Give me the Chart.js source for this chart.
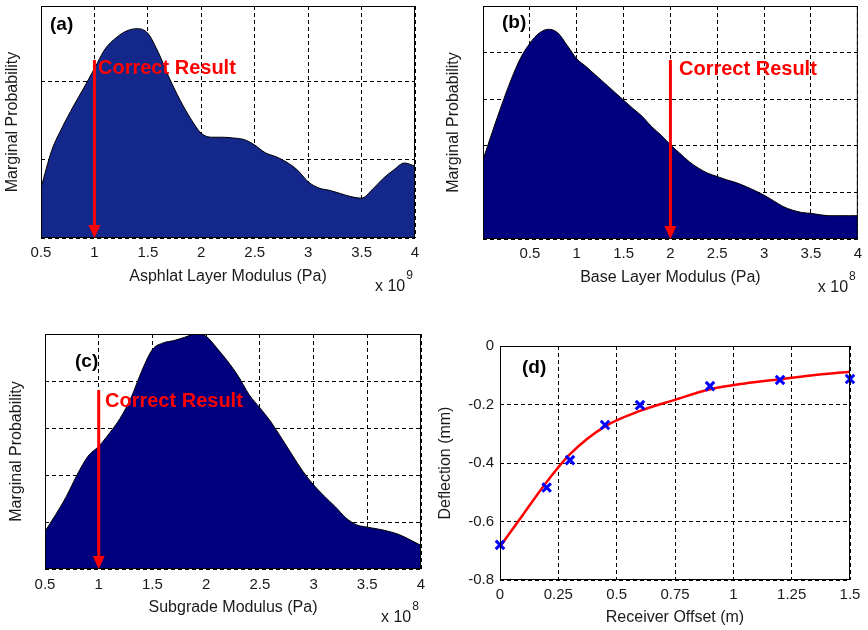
<!DOCTYPE html>
<html>
<head>
<meta charset="utf-8">
<script src="https://cdn.jsdelivr.net/npm/chart.js@4.4.0/dist/chart.umd.min.js"></script>
<style>
  body { margin: 0; background: #fff; width: 868px; height: 630px; position: relative; overflow: hidden; }
  .panel { position: absolute; width: 434px; height: 315px; }
</style>
</head>
<body>
<div class="panel" style="left:0;top:0"><canvas id="chartA" width="434" height="315"></canvas></div>
<div class="panel" style="left:434px;top:0"><canvas id="chartB" width="434" height="315"></canvas></div>
<div class="panel" style="left:0;top:315px"><canvas id="chartC" width="434" height="315"></canvas></div>
<div class="panel" style="left:434px;top:315px"><canvas id="chartD" width="434" height="315"></canvas></div>
<script>
// (a) asphalt layer modulus, x in 1e9 Pa
const aX = [0.5,0.6,0.7,0.8,0.9,1.0,1.1,1.2,1.3,1.4,1.5,1.6,1.7,1.8,1.9,2.0,2.1,2.2,2.3,2.4,2.5,2.6,2.7,2.8,2.9,3.0,3.1,3.2,3.3,3.4,3.5,3.6,3.7,3.8,3.9,4.0];
const aY = [0.64,1.12,1.42,1.68,1.92,2.17,2.42,2.56,2.65,2.68,2.62,2.37,2.05,1.77,1.53,1.34,1.29,1.29,1.28,1.26,1.19,1.09,1.04,0.97,0.87,0.72,0.64,0.61,0.57,0.53,0.51,0.62,0.76,0.87,0.96,0.92];
const aTicks = [0.5,1,1.5,2,2.5,3,3.5,4];
const aGrid = [0,1,2];

// (b) base layer modulus, x in 1e8 Pa
const bX = [0,0.1,0.2,0.3,0.4,0.5,0.6,0.7,0.8,0.9,1.0,1.1,1.2,1.3,1.4,1.5,1.6,1.7,1.8,1.9,2.0,2.1,2.2,2.3,2.4,2.5,2.6,2.7,2.8,2.9,3.0,3.1,3.2,3.3,3.4,3.5,3.6,3.7,3.8,3.9,4.0];
const bY = [1.70,2.30,2.88,3.42,3.88,4.20,4.42,4.50,4.42,4.15,3.87,3.70,3.52,3.34,3.16,2.98,2.80,2.63,2.41,2.23,2.02,1.84,1.66,1.52,1.41,1.34,1.27,1.21,1.13,1.04,0.94,0.82,0.70,0.62,0.57,0.55,0.52,0.50,0.50,0.50,0.50];
const bTicks = [0.5,1,1.5,2,2.5,3,3.5,4];
const bGrid = [0,1,2,3,4];

// (c) subgrade modulus, x in 1e8 Pa
const cX = [0.5,0.6,0.7,0.8,0.9,1.0,1.1,1.2,1.3,1.4,1.5,1.6,1.7,1.8,1.9,2.0,2.1,2.2,2.3,2.4,2.5,2.6,2.7,2.8,2.9,3.0,3.1,3.2,3.3,3.4,3.5,3.6,3.7,3.8,3.9,4.0];
const cY = [0.80,1.16,1.55,2.01,2.40,2.61,2.89,3.21,3.64,4.21,4.67,4.81,4.86,4.93,5.00,4.95,4.70,4.42,4.10,3.71,3.43,3.14,2.79,2.43,2.08,1.79,1.55,1.33,1.09,0.94,0.89,0.85,0.80,0.73,0.62,0.50];
const cTicks = [0.5,1,1.5,2,2.5,3,3.5,4];
const cGrid = [0,1,2,3,4];

// (d) deflection vs receiver offset
const dMeasX = [0,0.2,0.3,0.45,0.6,0.9,1.2,1.5];
const dMeasY = [-0.68,-0.484,-0.39,-0.27,-0.202,-0.137,-0.116,-0.113];
const dFitX = [0,0.1,0.2,0.3,0.45,0.6,0.75,0.9,1.05,1.2,1.35,1.5];
const dFitY = [-0.686,-0.575,-0.465,-0.37,-0.275,-0.222,-0.184,-0.148,-0.128,-0.114,-0.099,-0.088];
const dXTicks = [0,0.25,0.5,0.75,1,1.25,1.5];
const dYTicks = [-0.8,-0.6,-0.4,-0.2,0];

const FONT = "'Liberation Sans', Arial, sans-serif";
const INK = '#1a1a1a';

function pts(xs, ys) {
    return xs.map((x, i) => ({x: x, y: ys[i]}));
}

// plot box, panel letter, "Correct Result" arrow and the x 10^n label
const decor = {
    id: 'decor',
    afterDatasetsDraw(chart, args, opts) {
        const ctx = chart.ctx;
        const a = chart.chartArea;
        ctx.save();
        ctx.strokeStyle = '#000';
        ctx.lineWidth = 1;
        ctx.setLineDash([]);
        ctx.strokeRect(a.left + 0.5, a.top + 0.5, a.right - a.left - 1, a.bottom - a.top - 1);

        if (opts.arrowX !== undefined) {
            const x = chart.scales.x.getPixelForValue(opts.arrowX);
            ctx.strokeStyle = '#ff0000';
            ctx.fillStyle = '#ff0000';
            ctx.lineWidth = 3;
            ctx.beginPath();
            ctx.moveTo(x, opts.arrowTop);
            ctx.lineTo(x, a.bottom - 10);
            ctx.stroke();
            ctx.beginPath();
            ctx.moveTo(x - 6, a.bottom - 13);
            ctx.lineTo(x + 6, a.bottom - 13);
            ctx.lineTo(x, a.bottom);
            ctx.closePath();
            ctx.fill();
            ctx.font = 'bold 20px ' + FONT;
            ctx.textBaseline = 'middle';
            ctx.textAlign = 'left';
            ctx.fillText('Correct Result', opts.textX, opts.textY);
        }

        ctx.fillStyle = '#000';
        ctx.font = 'bold 19px ' + FONT;
        ctx.textBaseline = 'middle';
        ctx.textAlign = 'left';
        ctx.fillText(opts.label, opts.labelX, opts.labelY);

        if (opts.exp) {
            ctx.fillStyle = INK;
            ctx.font = '16px ' + FONT;
            const x0 = a.right - 40;
            ctx.fillText('x 10', x0, a.bottom + 49);
            const w = ctx.measureText('x 10').width;
            ctx.font = '12px ' + FONT;
            ctx.fillText(opts.exp, x0 + w + 1, a.bottom + 38);
        }
        ctx.restore();
    }
};

function gridOpts() {
    return { color: '#000', lineWidth: 1, drawTicks: false };
}

function makeDensity(id, xs, ys, c) {
    new Chart(document.getElementById(id), {
        type: 'line',
        data: {
            datasets: [{
                data: pts(xs, ys),
                borderColor: '#000',
                borderWidth: 1,
                backgroundColor: c.fill,
                fill: 'origin',
                pointRadius: 0,
                cubicInterpolationMode: 'monotone'
            }]
        },
        options: {
            responsive: false,
            animation: false,
            layout: { padding: c.pad },
            plugins: {
                legend: { display: false },
                tooltip: { enabled: false },
                decor: c.decor
            },
            scales: {
                x: {
                    type: 'linear',
                    min: c.xMin,
                    max: 4,
                    afterBuildTicks: s => { s.ticks = c.xTicks.map(v => ({value: v})); },
                    afterFit: s => { s.height = c.xAxisH; },
                    grid: gridOpts(),
                    border: { display: false, dash: [4, 3] },
                    ticks: { color: INK, font: { family: FONT, size: 15 }, padding: c.tickPad, maxRotation: 0, autoSkip: false, callback: v => String(v) },
                    title: { display: true, text: c.xTitle, color: INK, font: { family: FONT, size: 16 }, padding: { top: 0, bottom: c.xTitlePad } }
                },
                y: {
                    type: 'linear',
                    min: 0,
                    max: c.yMax,
                    afterBuildTicks: s => { s.ticks = c.yGrid.map(v => ({value: v})); },
                    afterFit: s => { s.width = c.yAxisW; },
                    grid: gridOpts(),
                    border: { display: false, dash: [4, 3] },
                    ticks: { display: false },
                    title: { display: true, text: 'Marginal Probability', color: INK, font: { family: FONT, size: 16 }, padding: { top: c.yTitlePad, bottom: 0 } }
                }
            }
        },
        plugins: [decor]
    });
}

makeDensity('chartA', aX, aY, {
    fill: '#14288c', xMin: 0.5, xTicks: aTicks, yGrid: aGrid, yMax: 2.97,
    pad: { left: 0, top: 6, right: 19, bottom: 0 }, yAxisW: 41, xAxisH: 77,
    tickPad: 6, xTitle: 'Asphlat Layer Modulus (Pa)', xTitlePad: 28.4, yTitlePad: 3.4,
    decor: { label: '(a)', labelX: 50, labelY: 25, arrowX: 1, arrowTop: 60, textX: 98, textY: 68, exp: '9' }
});

makeDensity('chartB', bX, bY, {
    fill: '#00007f', xMin: 0, xTicks: bTicks, yGrid: bGrid, yMax: 5,
    pad: { left: 0, top: 6, right: 7, bottom: 0 }, yAxisW: 49, xAxisH: 76,
    tickPad: 6, xTitle: 'Base Layer Modulus (Pa)', xTitlePad: 27.4, yTitlePad: 10.4,
    decor: { label: '(b)', labelX: 68, labelY: 23, arrowX: 2, arrowTop: 60, textX: 245, textY: 69, exp: '8' }
});

makeDensity('chartC', cX, cY, {
    fill: '#00007f', xMin: 0.5, xTicks: cTicks, yGrid: cGrid, yMax: 5,
    pad: { left: 0, top: 19, right: 13, bottom: 0 }, yAxisW: 45, xAxisH: 61,
    tickPad: 7, xTitle: 'Subgrade Modulus (Pa)', xTitlePad: 12.4, yTitlePad: 7.4,
    decor: { label: '(c)', labelX: 75, labelY: 47, arrowX: 1, arrowTop: 75, textX: 105, textY: 86, exp: '8' }
});

new Chart(document.getElementById('chartD'), {
    type: 'line',
    data: {
        datasets: [{
            data: pts(dMeasX, dMeasY),
            showLine: false,
            pointStyle: 'crossRot',
            pointRadius: 6,
            pointBorderWidth: 3,
            borderColor: '#0000ff',
            backgroundColor: '#0000ff',
            clip: false,
            order: 0
        }, {
            data: pts(dFitX, dFitY),
            borderColor: '#ff0000',
            borderWidth: 2.5,
            pointRadius: 0,
            fill: false,
            cubicInterpolationMode: 'monotone',
            order: 1
        }]
    },
    options: {
        responsive: false,
        animation: false,
        layout: { padding: { left: 0, top: 31, right: 18, bottom: 0 } },
        plugins: {
            legend: { display: false },
            tooltip: { enabled: false },
            decor: { label: '(d)', labelX: 88, labelY: 53 }
        },
        scales: {
            x: {
                type: 'linear', min: 0, max: 1.5,
                afterBuildTicks: s => { s.ticks = dXTicks.map(v => ({value: v})); },
                afterFit: s => { s.height = 50; },
                grid: gridOpts(),
                border: { display: false, dash: [4, 3] },
                ticks: { color: INK, font: { family: FONT, size: 15 }, padding: 6, maxRotation: 0, autoSkip: false, callback: v => String(v) },
                title: { display: true, text: 'Receiver Offset (m)', color: INK, font: { family: FONT, size: 16 }, padding: { top: 0, bottom: 2.4 } }
            },
            y: {
                type: 'linear', min: -0.8, max: 0,
                afterBuildTicks: s => { s.ticks = dYTicks.map(v => ({value: v})); },
                afterFit: s => { s.width = 66; },
                grid: gridOpts(),
                border: { display: false, dash: [4, 3] },
                ticks: { color: INK, font: { family: FONT, size: 15 }, padding: 6, callback: v => String(v) },
                title: { display: true, text: 'Deflection (mm)', color: INK, font: { family: FONT, size: 16 }, padding: { top: 2.4, bottom: 0 } }
            }
        }
    },
    plugins: [decor]
});
</script>
</body>
</html>
